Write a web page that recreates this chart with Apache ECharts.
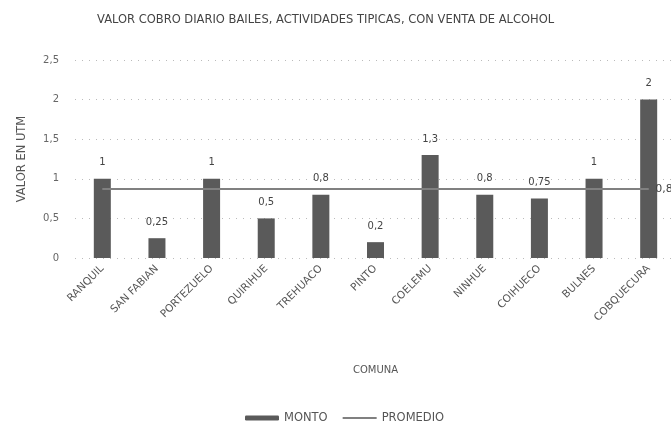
<!DOCTYPE html>
<html>
<head>
<meta charset="utf-8">
<script src="https://cdn.jsdelivr.net/npm/echarts@6/dist/echarts.min.js"></script>
<style>
  html, body { margin: 0; padding: 0; background: #fff; }
  #chart { width: 671px; height: 431px; }
</style>
</head>
<body>
<div id="chart"></div>
<script>
var comunas = ['RANQUIL', 'SAN FABIAN', 'PORTEZUELO', 'QUIRIHUE', 'TREHUACO', 'PINTO',
  'COELEMU', 'NINHUE', 'COIHUECO', 'BULNES', 'COBQUECURA']
var monto = [1, 0.25, 1, 0.5, 0.8, 0.2, 1.3, 0.8, 0.75, 1, 2]
var promedio = [0.87, 0.87, 0.87, 0.87, 0.87, 0.87, 0.87, 0.87, 0.87, 0.87, 0.87]

var fmt = function (v) { return String(v).replace('.', ',') }
var font = 'DejaVu Sans'

var chart = echarts.init(document.getElementById('chart'))
chart.setOption({
  animation: false,
  textStyle: { fontFamily: font },
  title: {
    text: 'VALOR COBRO DIARIO BAILES, ACTIVIDADES TIPICAS, CON VENTA DE ALCOHOL',
    left: 92,
    top: 9,
    textStyle: { fontSize: 11.5, fontWeight: 'normal', color: '#444' }
  },
  legend: {
    bottom: 2,
    left: 240,
    itemWidth: 34,
    itemHeight: 5,
    itemGap: 14,
    textStyle: { fontSize: 11.5, color: '#555' },
    data: ['MONTO', { name: 'PROMEDIO', itemStyle: { opacity: 0 } }]
  },
  grid: { left: 75, right: -5, top: 60, bottom: 173, outerBoundsMode: 'none' },
  xAxis: {
    type: 'category',
    data: comunas,
    name: 'COMUNA',
    nameLocation: 'middle',
    nameGap: 107,
    nameTextStyle: { fontSize: 10, color: '#555' },
    axisTick: { show: false },
    axisLine: { show: false },
    axisLabel: { rotate: 45, fontSize: 10.5, color: '#555', margin: 9 }
  },
  yAxis: {
    type: 'value',
    min: 0,
    max: 2.5,
    interval: 0.5,
    name: 'VALOR EN UTM',
    nameLocation: 'middle',
    nameGap: 47,
    nameTextStyle: { fontSize: 11.5, color: '#555' },
    axisLabel: { fontSize: 10, color: '#666', margin: 16, formatter: fmt },
    axisLine: { show: false },
    axisTick: { show: false },
    splitLine: { lineStyle: { color: '#bbb', type: [1, 6] } }
  },
  series: [
    {
      name: 'MONTO',
      type: 'bar',
      data: monto,
      barWidth: 17,
      itemStyle: { color: '#5a5a5a' },
      label: {
        show: true,
        position: 'top',
        distance: 11,
        fontSize: 10,
        color: '#444',
        formatter: function (p) { return fmt(p.value) }
      },
      z: 2
    },
    {
      name: 'PROMEDIO',
      type: 'line',
      data: promedio.map(function (v, i) {
        if (i !== promedio.length - 1) return v
        return {
          value: v,
          symbol: 'circle',
          symbolSize: 1,
          label: { show: true, position: 'right', distance: 6, fontSize: 11, color: '#444', formatter: function (p) { return fmt(p.value) } }
        }
      }),
      symbol: 'none',
      lineStyle: { color: '#808080', width: 2 },
      itemStyle: { color: '#808080' },
      z: 3
    }
  ]
})
</script>
</body>
</html>
